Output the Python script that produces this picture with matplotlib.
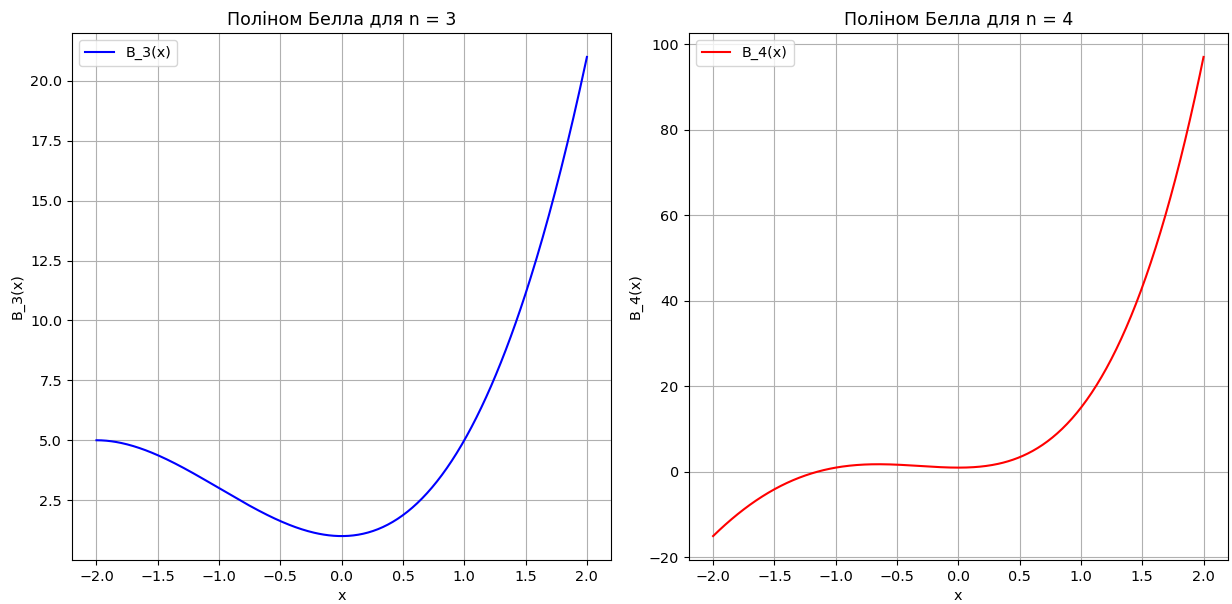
import numpy as np
import matplotlib.pyplot as plt

# Коефіцієнти поліномів (від старшого степеня до вільного члена)
orders = [3, 4]
coeffs_b3 = [1, 3, 0, 1]
coeffs_b4 = [1, 7, 6, 0, 1]
colors = ['blue', 'red']
x_min, x_max = -2.0, 2.0

plt.rcParams['font.size'] = 10.4

x = np.linspace(x_min, x_max, 400)

fig, axes = plt.subplots(1, 2, figsize=(12.32, 6.04), dpi=100)

for ax, n, coeffs, color in zip(axes, orders, [coeffs_b3, coeffs_b4], colors):
    y = np.polyval(coeffs, x)
    ax.plot(x, y, color=color, label=f'B_{n}(x)')
    ax.set_title(f'Поліном Белла для n = {n}')
    ax.set_xlabel('x')
    ax.set_ylabel(f'B_{n}(x)')
    ax.grid(True)
    ax.legend(loc='upper left')

fig.subplots_adjust(left=0.0584, right=0.9968, top=0.9454, bottom=0.0728, wspace=0.143)
plt.savefig('out.png', dpi=100)
